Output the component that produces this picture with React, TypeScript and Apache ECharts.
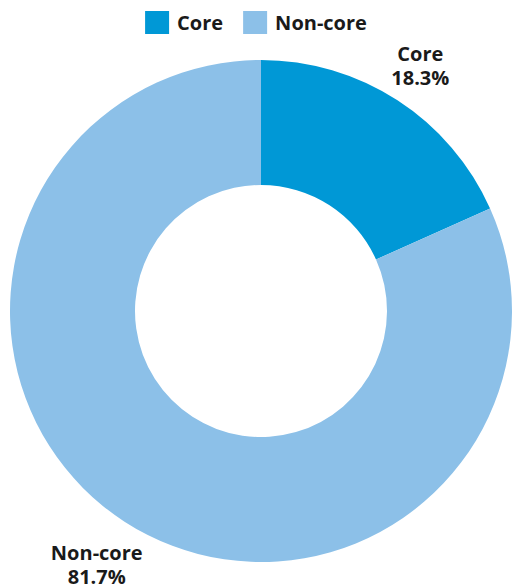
import React, { useEffect, useRef } from "react";
import * as echarts from "echarts";

const categories = ["Core", "Non-core"];
const values = [18.3, 81.7];
const colors = ["#0098D6", "#8CC0E8"];

const CX = 261;
const CY = 311;
const R_OUT = 251;
const R_IN = 126;
const LABEL_GAP = 6;

export default function App() {
  const ref = useRef<HTMLDivElement>(null);
  useEffect(() => {
    document.body.style.margin = "0";
    const chart = echarts.init(ref.current!, null, { renderer: "svg" });
    const total = values.reduce((a, b) => a + b, 0);
    const mids: number[] = [];
    let acc = 0;
    values.forEach((v) => {
      mids.push(((acc + v / 2) / total) * Math.PI * 2);
      acc += v;
    });
    chart.setOption({
      animation: false,
      color: colors,
      textStyle: { fontFamily: "Open Sans" },
      legend: {
        top: 6,
        left: "center",
        itemWidth: 24,
        itemHeight: 23,
        itemGap: 20,
        icon: "rect",
        textStyle: { fontSize: 20, fontWeight: "bold", color: "#1a1a1a", fontFamily: "Open Sans", padding: [0, 0, 0, 3] },
        data: categories,
      },
      series: [
        {
          type: "pie",
          center: [CX, CY],
          radius: [R_IN, R_OUT],
          startAngle: 90,
          clockwise: true,
          data: categories.map((c, i) => ({ name: c, value: values[i] })),
          label: {
            show: true,
            position: "outside",
            overflow: "none",
            formatter: (p: any) => `${p.name}\n${p.value.toFixed(1)}%`,
            fontSize: 20,
            fontWeight: "bold",
            lineHeight: 24,
            color: "#1a1a1a",
            fontFamily: "Open Sans",
            align: "center",
          },
          labelLine: { show: false },
          labelLayout: (params: any) => {
            const a = mids[params.dataIndex];
            const dx = Math.sin(a);
            const dy = -Math.cos(a);
            const w = params.labelRect.width / 2;
            const h = params.labelRect.height / 2;
            const ext = Math.abs(dx) * w + Math.abs(dy) * h;
            const r = R_OUT + LABEL_GAP + ext;
            return {
              x: CX + dx * r,
              y: CY + dy * r,
              align: "center",
              verticalAlign: "middle",
            };
          },
          emphasis: { disabled: true },
        },
      ],
    });
    return () => chart.dispose();
  }, []);
  return <div ref={ref} style={{ width: 512, height: 584 }} />;
}
